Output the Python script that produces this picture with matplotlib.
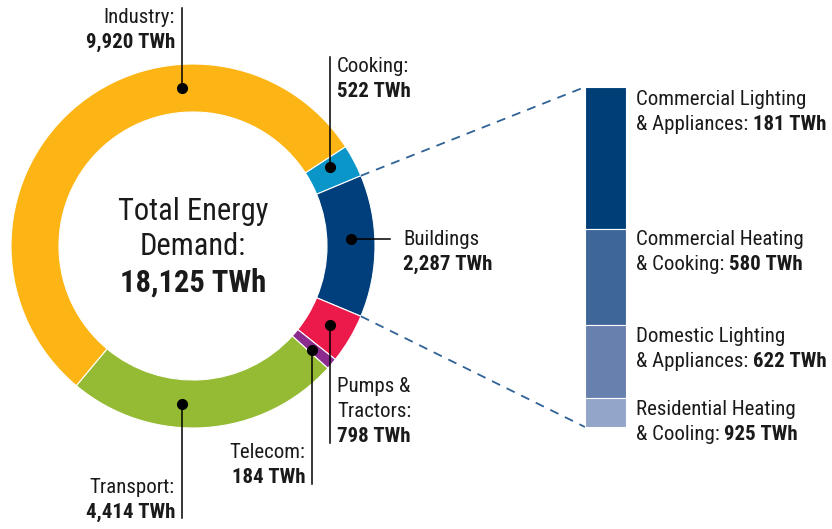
import matplotlib
matplotlib.use('Agg')
import matplotlib.pyplot as plt
import numpy as np
from matplotlib import font_manager

# ---------------- data ----------------
# donut slices in clockwise order, starting at Cooking
sectors = ['Cooking', 'Buildings', 'Pumps & Tractors', 'Telecom', 'Transport', 'Industry']
energy_twh = [522, 2287, 798, 184, 4414, 9920]
sector_colors = ['#0A96C8', '#003F7B', '#EB1A4B', '#8C2B8E', '#95BA33', '#FDB515']

total_label = 'Total Energy\nDemand:'
total_value = '18,125 TWh'

# breakdown of Buildings (stacked bar, top to bottom) – segment sizes
bar_segment_twh = [964, 652, 496, 197]
bar_colors = ['#003E78', '#3E6699', '#6780AE', '#94A5CA']
bar_label_line1 = ['Commercial Lighting', 'Commercial Heating', 'Domestic Lighting', 'Residential Heating']
bar_label_line2 = ['& Appliances:', '& Cooking:', '& Appliances:', '& Cooling:']
bar_label_value = ['181 TWh', '580 TWh', '622 TWh', '925 TWh']

slice_label_name = ['Cooking:', 'Buildings', 'Pumps &\nTractors:', 'Telecom:', 'Transport:', 'Industry:']
slice_label_value = ['522 TWh', '2,287 TWh', '798 TWh', '184 TWh', '4,414 TWh', '9,920 TWh']

# ---------------- style ----------------
avail = {f.name for f in font_manager.fontManager.ttflist}
FONT = next((f for f in ['Liberation Sans Narrow', 'Roboto Condensed', 'DejaVu Sans'] if f in avail), 'DejaVu Sans')
plt.rcParams['font.family'] = [FONT, 'DejaVu Sans']
TXT = '#1a1a1a'
W, H = 832, 529

fig = plt.figure(figsize=(W / 100, H / 100), dpi=100)
ax = fig.add_axes([0, 0, 1, 1])

def Y(y):
    return H - y

# ---------------- donut ----------------
cx, cy = 193, Y(246)
R_out, R_in = 182, 134
tot = float(sum(energy_twh))
start = energy_twh[1] / tot * 180 + energy_twh[0] / tot * 360   # centre Buildings on the east axis
wedges, _ = ax.pie(energy_twh, colors=sector_colors, startangle=start, counterclock=False,
                   radius=R_out, center=(cx, cy),
                   wedgeprops=dict(width=R_out - R_in, edgecolor='white', linewidth=0.8))

# centre text
ax.text(cx, Y(220), 'Total Energy', ha='center', va='baseline', fontsize=22, color=TXT)
ax.text(cx, Y(255), 'Demand:', ha='center', va='baseline', fontsize=22, color=TXT)
ax.text(cx, Y(292), total_value, ha='center', va='baseline', fontsize=22, fontweight='bold', color=TXT)

# leader lines: (kind, coordinate of line, side, end of line)
rm = (R_out + R_in) / 2
leaders = {
    'Cooking':          ('v', 330, +1, Y(57)),
    'Buildings':        ('h', Y(239), +1, 390),
    'Pumps & Tractors': ('v', 330, -1, Y(443)),
    'Telecom':          ('v', 312, -1, Y(484)),
    'Transport':        ('v', 182, -1, Y(518)),
    'Industry':         ('v', 182, +1, Y(8)),
}
label_pos = {
    # x, baseline of first line, ha
    'Cooking':          (337, Y(72), 'left'),
    'Buildings':        (403, Y(245), 'left'),
    'Pumps & Tractors': (337, Y(392), 'left'),
    'Telecom':          (305, Y(458), 'right'),
    'Transport':        (175, Y(493), 'right'),
    'Industry':         (175, Y(23), 'right'),
}
LS = 25
for name, lname, lval in zip(sectors, slice_label_name, slice_label_value):
    kind, c, side, end = leaders[name]
    if kind == 'v':
        dy = np.sqrt(rm ** 2 - (c - cx) ** 2)
        px, py = c, cy + side * dy
        ax.plot([px, px], [py, end], color='black', lw=1.1, zorder=4)
    else:
        dx = np.sqrt(rm ** 2 - (c - cy) ** 2)
        px, py = cx + side * dx, c
        ax.plot([px, end], [py, py], color='black', lw=1.1, zorder=4)
    ax.plot(px, py, 'o', color='black', ms=7, zorder=5)
    lx, ly, ha = label_pos[name]
    lines = lname.split('\n')
    for i, ln in enumerate(lines):
        ax.text(lx, ly - i * LS, ln, ha=ha, va='baseline', fontsize=15, color=TXT)
    ax.text(lx, ly - len(lines) * LS, lval, ha=ha, va='baseline', fontsize=15,
            fontweight='bold', color=TXT)

# ---------------- stacked bar ----------------
bar_x0, bar_w = 585, 41
bar_top, bar_bot = Y(87), Y(427)
scale = (bar_top - bar_bot) / float(sum(bar_segment_twh))
heights = [v * scale for v in bar_segment_twh]
bottoms = bar_top - np.cumsum(heights)
ax.bar([bar_x0] * len(heights), heights, bottom=bottoms, width=bar_w, align='edge',
       color=bar_colors, edgecolor='white', linewidth=0.8, zorder=3)

# dashed connectors from Buildings wedge to the bar
bw = wedges[1]
for ang, by in [(bw.theta2, bar_top), (bw.theta1, bar_bot)]:
    ex = cx + R_out * np.cos(np.radians(ang))
    ey = cy + R_out * np.sin(np.radians(ang))
    ax.plot([ex, bar_x0], [ey, by], color='#2F6296', lw=1.3, ls=(0, (5, 4)), zorder=2)

bar_label_baselines = [Y(105), Y(245), Y(342), Y(415)]
for l1, l2, lv, yb in zip(bar_label_line1, bar_label_line2, bar_label_value, bar_label_baselines):
    ax.text(636, yb, l1, ha='left', va='baseline', fontsize=15, color=TXT)
    t2 = ax.text(636, yb - LS, l2, ha='left', va='baseline', fontsize=15, color=TXT)
    ax.annotate(lv, xy=(1, 0), xycoords=t2, xytext=(3.2, 0), textcoords='offset points',
                ha='left', va='bottom', fontsize=15, fontweight='bold', color=TXT)

ax.set_xlim(0, W)
ax.set_ylim(0, H)
ax.set_aspect('equal')
ax.axis('off')
fig.savefig('out.png', dpi=100, facecolor='white')
